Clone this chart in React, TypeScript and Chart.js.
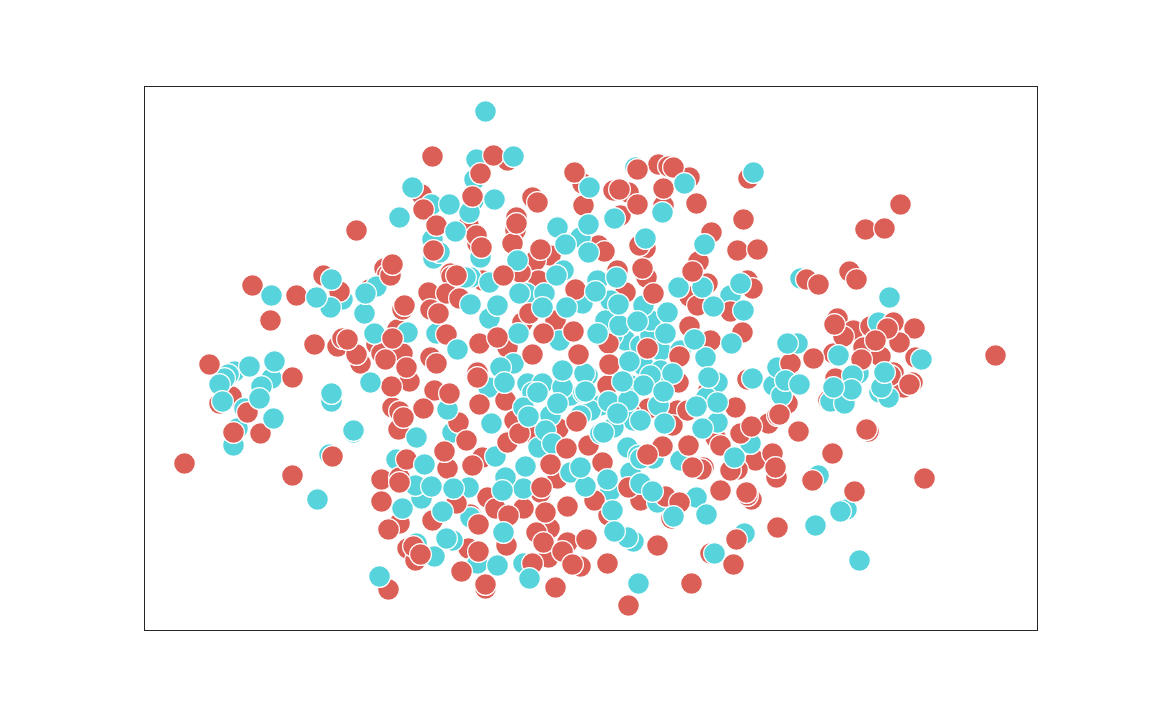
import React, { useEffect, useRef } from "react";
import { Chart, registerables } from "chart.js";

Chart.register(...registerables);

type P = [number, number];

const RED = "#db5f57";
const CYAN = "#57d3db";

const redBack: P[] = [[-16.9,16.4],[-20.6,9.0],[-20.3,8.4],[-26.7,8.3],[-22.1,6.9],[-19.3,2.9],[-25.3,1.2],[-21.4,1.4],[-23.0,-0.5],[-35.9,-3.8],[-37.1,-4.5],[-18.1,-2.3],[-19.8,-4.9],[-19.2,-7.1],[-19.1,-16.5],[-18.3,-19.0],[-17.5,-20.2],[-8.3,19.8],[-12.2,13.3],[-11.3,11.5],[-0.8,17.5],[-7.4,13.8],[-7.4,14.1],[-4.0,10.3],[-5.5,9.8],[0.8,11.3],[-10.8,7.8],[-5.2,7.8],[-14.0,8.5],[6.8,19.4],[9.9,18.1],[15.8,18.0],[3.8,16.6],[7.3,15.3],[3.0,14.3],[5.5,11.0],[1.4,10.7],[10.8,9.7],[2.7,8.8],[3.5,6.6],[11.7,7.5],[15.7,7.8],[-3.5,3.8],[-8.3,1.1],[-11.3,-1.4],[-7.6,-6.2],[-5.7,-7.5],[-3.2,-7.0],[-0.2,-8.7],[8.8,-2.4],[1.7,-2.7],[11.8,-3.2],[5.8,-5.0],[8.7,-5.2],[4.0,-5.5],[8.2,-6.7],[17.8,-6.5],[12.5,-7.9],[11.3,-10.9],[16.5,-10.2],[-10.8,-9.9],[-12.0,-15.6],[-10.3,-13.9],[-6.7,-15.0],[-12.2,-19.0],[-10.5,-23.0],[-5.0,-13.4],[-3.3,-12.0],[-4.1,-17.0],[-2.3,-18.4],[-1.0,-20.8],[14.7,-11.1],[11.1,-11.1],[5.0,-14.2],[16.1,-14.1],[1.8,-15.7],[8.1,-16.0],[12.0,-19.5],[18.6,-11.9],[24.7,4.0],[26.3,2.8],[28.0,3.2],[27.3,1.1],[24.3,0.5],[19.7,-4.5],[32.5,0.1],[30.3,-1.4],[23.8,-4.2],[32.2,-2.4],[31.3,-2.9],[30.0,-1.7],[15.7,-2.1],[27.8,-7.3]];

const cyanBack: P[] = [[-15.9,15.4],[-15.8,11.9],[-15.7,10.0],[-21.4,7.2],[-24.8,5.9],[-35.6,-1.3],[-36.2,-1.6],[-31.9,-2.0],[-34.6,-5.0],[-35.3,-7.0],[-35.7,-8.7],[-25.9,-4.3],[-23.7,-7.4],[-26.1,-9.6],[-19.4,-10.1],[-16.9,-14.0],[-17.4,-18.5],[-11.4,19.9],[-11.6,17.9],[-11.7,15.8],[-12.1,14.6],[-11.0,10.1],[-15.1,10.6],[-1.0,12.1],[-2.7,8.8],[-0.8,5.5],[-12.0,8.1],[-6.4,6.5],[4.5,19.1],[14.0,6.3],[2.0,5.8],[-10.1,4.0],[-15.3,2.5],[-7.7,-0.5],[-10.2,-2.9],[-6.3,-2.5],[-4.8,-2.5],[-9.5,-9.8],[-5.2,-8.9],[-13.8,-7.4],[-0.3,-1.7],[5.3,-0.7],[12.7,-2.4],[11.6,-3.9],[4.3,-6.2],[2.3,-6.9],[12.7,-6.4],[16.0,-8.5],[3.7,-8.9],[9.0,-10.2],[-12.2,-12.9],[-13.8,-18.2],[-12.0,-15.9],[-11.3,-20.5],[-6.7,-13.0],[-2.0,-11.4],[-6.7,-20.5],[6.3,-10.0],[4.0,-11.4],[6.7,-14.4],[2.0,-13.2],[4.3,-18.3],[22.8,-11.7],[25.6,-15.1],[21.0,8.0],[28.8,3.6],[20.7,1.5],[19.8,-1.9],[18.3,-2.7],[26.8,-1.5],[28.9,-3.4],[29.8,-3.9],[3.5,1.8],[5.0,1.3],[2.2,2.3],[6.0,2.3],[7.0,0.8],[1.5,3.8],[6.0,3.8],[9.0,0.8],[7.0,-1.2],[4.0,-2.7],[6.0,-1.7],[1.0,-4.7],[0.0,-5.2],[5.0,-6.2],[-3.0,-4.2],[-2.0,-3.7],[-1.0,-5.7],[-4.0,-5.7],[-4.5,-7.2]];

const redMid: P[] = [[-16.7,14.9],[-20.0,8.3],[-25.1,6.7],[-16.2,6.6],[-13.9,8.2],[-16.0,4.9],[-18.8,4.9],[-24.8,2.0],[-23.4,0.4],[-20.9,0.5],[-18.8,0.5],[-16.0,0.1],[-33.0,-7.5],[-15.6,-3.2],[-19.1,-5.3],[-16.7,-5.0],[-15.8,-16.2],[-20.9,-12.1],[-19.1,-11.9],[-17.7,-18.8],[-20.2,-23.1],[-9.7,20.3],[-11.8,16.2],[-11.4,12.3],[-7.5,12.8],[-7.8,11.5],[-5.8,16.1],[-0.7,15.3],[-7.0,8.6],[7.8,19.2],[2.3,16.8],[4.9,11.3],[12.1,12.6],[14.7,10.8],[5.6,8.1],[9.9,6.2],[16.2,7.0],[10.7,5.3],[14.0,4.7],[-6.8,3.6],[-11.1,1.5],[-5.8,0.4],[-8.5,-4.2],[-13.2,-6.4],[-8.3,-8.4],[15.2,2.6],[12.0,1.8],[1.8,1.5],[9.7,-5.2],[14.5,-4.9],[15.0,-7.5],[18.7,-5.7],[7.2,-8.8],[18.2,-9.5],[1.2,-10.4],[-14.3,-11.0],[-13.4,-14.5],[-9.5,-15.0],[-8.4,-18.7],[-4.5,-15.4],[-5.4,-17.4],[-4.2,-19.9],[-0.4,-18.1],[14.0,-11.2],[3.8,-12.9],[7.5,-13.8],[15.7,-13.7],[25.9,8.7],[21.6,7.9],[25.3,2.2],[30.3,3.6],[32.4,3.0],[30.9,1.6],[29.0,0.2],[27.1,-0.1],[24.5,-2.0],[0.4,-14.2],[-5.8,-20.5]];

const cyanMid: P[] = [[-14.1,15.4],[-19.1,14.1],[-26.0,5.1],[-22.6,4.5],[-18.3,2.6],[-21.6,2.5],[-15.4,2.5],[-36.6,-2.0],[-32.9,-2.8],[-17.5,-12.7],[-15.6,-19.8],[-7.3,9.8],[-10.1,7.6],[0.7,7.8],[-4.6,6.5],[-12.5,8.1],[2.6,8.1],[8.8,7.1],[11.2,7.1],[5.3,5.3],[15.3,4.8],[2.9,3.3],[-3.1,1.8],[-7.2,2.5],[-0.6,-1.5],[-2.8,-2.9],[-5.8,-3.4],[-3.3,-4.5],[-14.3,-5.1],[-6.7,-4.9],[-3.8,-8.5],[11.5,0.1],[5.3,-2.7],[1.8,-4.3],[3.8,-4.2],[6.8,-4.7],[2.7,-5.5],[4.8,-9.7],[-8.5,-11.9],[-0.5,-12.8],[5.0,-10.0],[10.6,-13.9],[3.7,-17.9],[15.4,-17.5],[26.2,-1.7],[18.7,-0.9],[19.1,-3.7],[24.0,-4.3],[25.4,-4.5],[29.1,-2.9]];

const redFront: P[] = [[-15.8,20.2],[-15.4,13.3],[-23.4,12.8],[-15.7,10.8],[-19.8,9.4],[-33.8,7.3],[-29.4,6.3],[-32.0,3.8],[-18.6,5.3],[-19.8,2.0],[-27.6,1.4],[-24.3,1.9],[-20.5,-0.1],[-14.4,6.5],[-15.2,4.5],[-14.4,2.4],[-15.4,-0.5],[-38.1,-0.6],[-29.8,-1.9],[-34.3,-5.4],[-35.7,-7.4],[-40.6,-10.5],[-29.8,-11.7],[-25.8,-9.8],[-18.4,-0.9],[-19.9,-2.8],[-14.1,-3.5],[-18.7,-5.9],[-18.4,-10.1],[-14.6,-9.3],[-19.1,-12.4],[-20.9,-14.3],[-20.2,-17.1],[-17.0,-19.6],[-11.0,18.5],[-5.3,15.6],[-1.6,18.6],[-7.4,13.5],[-10.9,11.1],[-5.0,10.9],[-8.7,8.3],[-1.5,6.9],[-13.4,8.3],[-13.1,6.0],[-6.1,4.5],[4.7,18.9],[8.3,19.1],[7.3,17.0],[2.9,16.9],[4.7,15.4],[10.6,15.5],[15.3,13.9],[10.2,8.7],[5.2,9.0],[6.3,6.5],[16.7,10.9],[-4.7,2.5],[-9.3,2.1],[-1.7,2.7],[-1.2,0.4],[-11.3,-1.9],[-11.1,-4.6],[-1.4,-6.3],[-7.1,-7.5],[-12.4,-8.2],[-2.4,-9.0],[-11.8,-10.7],[-4.0,-10.6],[5.7,1.0],[9.9,3.2],[8.9,0.2],[1.9,-0.6],[16.1,-6.8],[9.8,-8.7],[13.0,-8.7],[5.7,-9.6],[10.2,-10.9],[18.5,-10.9],[-8.2,-15.7],[-11.2,-16.6],[-11.2,-19.3],[-12.9,-21.3],[-10.5,-22.6],[-4.9,-12.9],[-2.3,-14.8],[-4.7,-18.4],[-2.8,-19.3],[-1.8,-20.6],[-3.5,-22.9],[1.7,-20.5],[8.9,-14.4],[13.0,-13.2],[15.6,-13.4],[6.7,-18.7],[3.8,-24.7],[10.1,-22.5],[14.3,-20.6],[14.6,-18.1],[18.7,-16.9],[22.2,-12.2],[24.2,-9.5],[26.4,-13.3],[33.4,-12.0],[27.6,-7.1],[31.0,15.4],[27.5,12.9],[29.4,13.0],[26.6,7.9],[22.8,7.4],[40.5,0.3],[24.4,3.4],[29.7,3.0],[28.5,1.8],[22.3,0.0],[20.0,-0.5],[18.9,-5.6],[31.9,-2.6],[20.8,-7.3]];

const cyanFront: P[] = [[-10.5,24.7],[-17.8,17.1],[-25.9,7.9],[-31.9,6.3],[-27.4,6.1],[-22.5,6.5],[-37.1,-2.6],[-34.1,-0.8],[-31.6,-0.3],[-36.8,-4.3],[-33.1,-4.0],[-31.7,-6.0],[-25.9,-3.5],[-23.7,-7.2],[-22.0,-2.4],[-27.3,-14.1],[-17.4,-7.9],[-16.6,-10.6],[-15.9,-12.8],[-18.8,-15.0],[-14.8,-15.3],[-14.4,-18.0],[-21.1,-21.8],[-7.7,20.2],[-9.6,15.9],[-13.5,12.7],[-3.3,13.1],[-0.1,17.1],[-0.2,13.4],[-2.5,11.4],[-0.2,10.6],[-3.4,8.3],[0.5,6.7],[-2.4,5.1],[-12.0,5.4],[-9.3,5.3],[-7.1,6.5],[-4.8,5.1],[16.3,18.6],[9.4,17.5],[7.2,14.6],[2.4,14.0],[5.5,12.0],[11.4,11.4],[15.0,7.5],[12.3,5.2],[2.8,5.4],[7.7,4.6],[0.7,2.5],[-13.3,0.9],[-9.0,-0.9],[-2.8,-1.2],[-8.6,-2.4],[-5.3,-3.4],[-0.7,-3.4],[-9.9,-6.5],[-6.2,-5.8],[1.0,-7.5],[-6.5,-10.8],[-1.0,-10.9],[4.7,3.7],[7.5,2.5],[14.1,1.5],[10.4,1.9],[3.9,-0.3],[8.2,-1.5],[11.8,-1.9],[3.2,-2.3],[7.3,-3.3],[-0.5,-3.3],[12.7,-4.4],[10.6,-4.8],[7.4,-6.5],[1.3,-7.4],[11.2,-7.0],[14.4,-9.9],[-13.7,-13.0],[-8.8,-13.2],[-9.3,-20.7],[-8.7,-17.4],[-6.1,-22.0],[1.7,-12.1],[5.0,-12.5],[6.2,-13.3],[8.3,-15.8],[11.6,-15.6],[2.2,-15.2],[2.4,-17.3],[4.8,-22.5],[12.4,-19.5],[22.5,-16.7],[25.0,-15.3],[26.9,-20.2],[29.9,6.1],[24.8,0.3],[19.7,1.5],[19.5,-2.2],[20.9,-2.6],[33.1,-0.1],[29.4,-1.4],[26.1,-3.1],[24.3,-2.9],[16.2,-2.0]];

const xRange: P = [-44.65, 44.65];
const yRange: P = [-27.15, 27.25];

// Bottom to top; Chart.js paints the first dataset last, hence the reverse below.
const layers: [P[], string][] = [
  [redBack, RED],
  [cyanBack, CYAN],
  [redMid, RED],
  [cyanMid, CYAN],
  [redFront, RED],
  [cyanFront, CYAN],
];

const framePlugin = {
  id: "frame",
  afterDraw(chart: any) {
    const { ctx, chartArea: a } = chart;
    ctx.save();
    ctx.strokeStyle = "#262626";
    ctx.lineWidth = 1;
    ctx.strokeRect(a.left + 0.5, a.top + 0.5, a.right - a.left, a.bottom - a.top);
    ctx.restore();
  },
};

export default function App() {
  const ref = useRef<HTMLCanvasElement>(null);
  useEffect(() => {
    const chart = new Chart(ref.current as HTMLCanvasElement, {
      type: "scatter",
      data: {
        datasets: layers
          .map(([pts, color]) => ({
            data: pts.map(([x, y]) => ({ x, y })),
            backgroundColor: color,
            borderColor: "#ffffff",
            borderWidth: 1.2,
            pointRadius: 10.9,
            pointHoverRadius: 10.9,
            clip: false as any,
          }))
          .reverse(),
      },
      options: {
        animation: false,
        responsive: false,
        layout: { padding: { left: 144, right: 115, top: 86, bottom: 90 } },
        plugins: { legend: { display: false }, tooltip: { enabled: false } },
        scales: {
          x: { type: "linear", display: false, min: xRange[0], max: xRange[1] },
          y: { type: "linear", display: false, min: yRange[0], max: yRange[1] },
        },
      },
      plugins: [framePlugin],
    });
    return () => chart.destroy();
  }, []);
  return (
    <div style={{ position: "fixed", left: 0, top: 0, width: 1152, height: 720, background: "#fff" }}>
      <canvas ref={ref} width={1152} height={720} style={{ display: "block" }} />
    </div>
  );
}
